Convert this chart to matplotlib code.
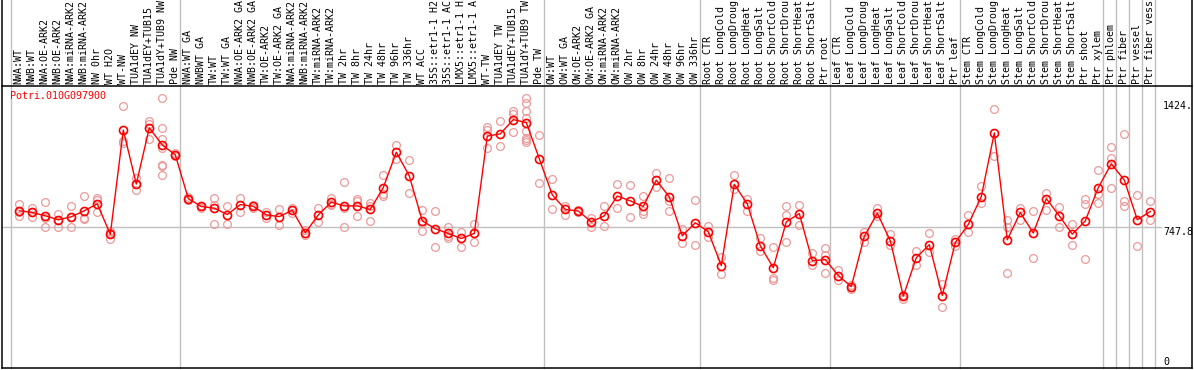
import matplotlib
matplotlib.use("Agg")
import matplotlib.pyplot as plt
import matplotlib.transforms as mtransforms
from matplotlib.lines import Line2D

gene = "Potri.010G097900"

labels = [
    "NWA:WT", "NWB:WT", "NWA:OE-ARK2", "NWB:OE-ARK2", "NWA:miRNA-ARK2", "NWB:miRNA-ARK2",
    "NW 0hr", "WT H2O", "WT-NW", "TUA1dEY NW", "TUA1dEY+TUB15", "TUA1dY+TUB9 NW", "Pde NW",
    "NWA:WT GA", "NWBWT GA", "TW:WT", "TW:WT GA", "NWA:OE-ARK2 GA", "NWB:OE-ARK2 GA",
    "TW:OE-ARK2", "TW:OE-ARK2 GA", "NWA:miRNA-ARK2", "NWB:miRNA-ARK2", "TW:miRNA-ARK2",
    "TW:miRNA-ARK2", "TW 2hr", "TW 8hr", "TW 24hr", "TW 48hr", "TW 96hr", "TW 336hr",
    "WT ACC", "35S::etr1-1 H2", "35S::etr1-1 AC", "LMX5::etr1-1 H", "LMX5::etr1-1 A",
    "WT-TW", "TUA1dEY TW", "TUA1dEY+TUB15", "TUA1dY+TUB9 TW", "Pde TW",
    "OW:WT", "OW:WT GA", "OW:OE-ARK2", "OW:OE-ARK2 GA", "OW:miRNA-ARK2", "OW:miRNA-ARK2",
    "OW 2hr", "OW 8hr", "OW 24hr", "OW 48hr", "OW 96hr", "OW 336hr",
    "Root CTR", "Root LongCold", "Root LongDroug", "Root LongHeat", "Root LongSalt",
    "Root ShortCold", "Root ShortDrou", "Root ShortHeat", "Root ShortSalt", "Ptr root",
    "Leaf CTR", "Leaf LongCold", "Leaf LongDroug", "Leaf LongHeat", "Leaf LongSalt",
    "Leaf ShortCold", "Leaf ShortDrou", "Leaf ShortHeat", "Leaf ShortSalt", "Ptr leaf",
    "Stem CTR", "Stem LongCold", "Stem LongDroug", "Stem LongHeat", "Stem LongSalt",
    "Stem ShortCold", "Stem ShortDrou", "Stem ShortHeat", "Stem ShortSalt", "Ptr shoot",
    "Ptr xylem", "Ptr phloem", "Ptr fiber", "Ptr vessel", "Ptr fiber vess",
]

means = [
    837, 828, 810, 789, 805, 837, 874, 711, 1268, 980, 1280, 1188, 1136,
    902, 860, 851, 817, 870, 861, 815, 806, 840, 719, 815, 883, 863, 863, 844,
    961, 1150, 1023, 783, 741, 716, 689, 716, 1236, 1248, 1324, 1308, 1115,
    922, 844, 836, 778, 810, 916, 890, 860, 1001, 911, 703, 773,
    725, 544, 978, 874, 650, 533, 778, 822, 570, 576,
    491, 432, 700, 824, 677, 381, 586, 656, 384, 668,
    764, 913, 1253, 682, 828, 718, 902, 810, 712, 783,
    961, 1088, 1001, 789, 833,
]

replicates = [
    [875, 833, 810], [854, 828, 804], [884, 801, 751], [822, 789, 751], [863, 805, 751],
    [916, 801, 792], [907, 897, 828], [728, 716, 687], [1395, 1212, 1200], [1012, 980, 946],
    [1315, 1303, 1223], [1440, 1278, 1223, 1170, 1084, 1074, 1028], [1147, 1136, 1129],
    [910, 902, 894], [863, 860, 854], [907, 868, 769], [863, 769], [907, 828], [868, 851],
    [833, 801], [849, 762], [853, 826], [737, 709], [854, 776], [907, 872, 870],
    [991, 850, 751], [898, 890, 809], [877, 863, 783], [1028, 925, 916], [1191, 1111],
    [1108, 932], [842, 774, 730], [836, 645], [748, 703, 691], [726, 645], [769, 668],
    [1284, 1267, 1170], [1315, 1182], [1372, 1356, 1259],
    [1440, 1413, 1369, 1330, 1262, 1227, 1214, 1204], [1243, 985],
    [1008, 849], [863, 813], [840, 833], [797, 751], [863, 757], [978, 852], [975, 804],
    [916, 836, 819], [1040, 965], [1014, 890, 836], [739, 664], [895, 655],
    [756, 698], [592, 499], [1028, 952], [899, 836], [694, 623], [645, 478, 467],
    [863, 815, 668], [870, 762], [611, 547], [636, 600, 505],
    [521, 467], [443, 420], [726, 668], [851, 810], [712, 655], [389, 366], [623, 547],
    [716, 615], [446, 322], [686, 650],
    [815, 726], [969, 877], [1378, 1129], [788, 748, 506], [854, 787], [836, 585],
    [930, 842], [859, 751], [769, 655], [898, 872, 579],
    [1055, 925, 877], [1177, 1120, 961], [1248, 889, 860], [922, 650], [889, 787],
]

group_ends = [-1, 12, 40, 52, 62, 72, 83, 84, 85, 86, 87]
ref_line = 747.8
right_labels = [(1424, "1424."), (747.8, "747.8"), (0, "0")]

W, H = 1194, 370
fig = plt.figure(figsize=(W / 100, H / 100), dpi=100)
fig.patch.set_facecolor("white")

px_left, px_right, px_top, px_bottom = 2, 1192, 86, 368
ax = fig.add_axes([px_left / W, 1 - px_bottom / H, (px_right - px_left) / W, (px_bottom - px_top) / H])

n = len(labels)
x = list(range(n))
ax.set_xlim((px_left - 19.3) / 13.0, (px_right - 19.3) / 13.0)
ax.set_ylim(-2.7, 1503.5)
ax.set_xticks([])
ax.set_yticks([])
for s in ["left", "right", "bottom"]:
    ax.spines[s].set_visible(False)
ax.spines["top"].set_linewidth(1.1)
ax.spines["top"].set_color("black")

mono = "DejaVu Sans Mono"
fs = 7.2

# separators (extend through label area)
trans_xd = mtransforms.blended_transform_factory(ax.transData, ax.transAxes)
ytop_ax = 1 + px_top / (px_bottom - px_top)
for b in group_ends:
    ax.add_line(Line2D([b + 0.38, b + 0.38], [0, ytop_ax], transform=trans_xd,
                       color="#c0c0c0", lw=1.0, clip_on=False, zorder=1))

# reference horizontal line
xr_end = (1161 - 19.3) / 13.0
ax.plot([ax.get_xlim()[0], xr_end], [ref_line, ref_line], color="#c0c0c0", lw=1.0, zorder=1)

# replicates
for i, reps in enumerate(replicates):
    ax.plot([i] * len(reps), reps, linestyle="none", marker="o", markersize=5.6,
            markerfacecolor="none", markeredgecolor="#eb9a9a", markeredgewidth=0.9, zorder=2)

# mean line
ax.plot(x, means, color="#ff0000", lw=1.0, marker="o", markersize=5.8,
        markerfacecolor="none", markeredgecolor="#ff0000", markeredgewidth=1.2, zorder=3)

# top labels
lab_y = 1 + 2 / (px_bottom - px_top)
for i, lab in enumerate(labels):
    ax.text(i - 0.05, lab_y, lab, transform=trans_xd, rotation=90, ha="center", va="bottom",
            fontsize=fs, family=mono, color="black", clip_on=False)

# right labels
trans_ad = mtransforms.blended_transform_factory(ax.transAxes, ax.transData)
xlab = (1163 - px_left) / (px_right - px_left)
for val, txt in right_labels:
    ax.text(xlab, val, txt, transform=trans_ad, ha="left", va="top" if val > 0 else "bottom",
            fontsize=fs, family=mono, color="black")

# gene title
ax.text((10 - px_left) / (px_right - px_left), 1 - 5 / (px_bottom - px_top), gene,
        transform=ax.transAxes, ha="left", va="top", fontsize=fs, family=mono, color="#ff0000")

# outer border lines (left, right, bottom)
for xs, ys in [([px_left, px_left], [0, px_bottom]), ([px_right, px_right], [0, px_bottom]),
               ([px_left, px_right], [px_bottom, px_bottom])]:
    fig.add_artist(Line2D([v / W for v in xs], [1 - v / H for v in ys], transform=fig.transFigure,
                          color="black", lw=1.1))

fig.savefig("out.png", dpi=100, facecolor="white")
